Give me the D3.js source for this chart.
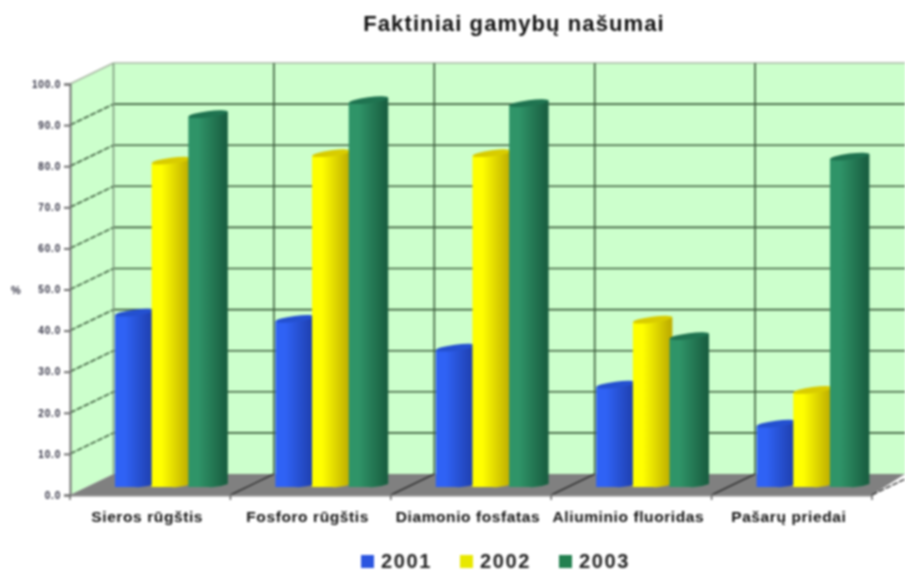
<!DOCTYPE html>
<html lang="en">
<head>
<meta charset="UTF-8">
<title>Faktiniai gamybų našumai</title>
<script src="https://d3js.org/d3.v7.min.js"></script>
<style>
  body { margin: 0; background: #fff; }
  svg { display: block; filter: blur(0.9px); font-family: "Liberation Sans", Arial, sans-serif; font-weight: bold; }
</style>
</head>
<body>
<script>
const categories = ["Sieros rūgštis", "Fosforo rūgštis", "Diamonio fosfatas", "Aliuminio fluoridas", "Pašarų priedai"];
const years = ["2001", "2002", "2003"];
const values2001 = [43.5, 42, 35, 26, 16.5];
const values2002 = [80.5, 82.3, 82.3, 41.8, 24.7];
const values2003 = [91.8, 95.2, 94.5, 37.8, 81.5];
const yTicks = [0, 10, 20, 30, 40, 50, 60, 70, 80, 90, 100];

const seriesValues = [values2001, values2002, values2003];
const light = ["#2f62f5", "#ffff00", "#2f9468"];
const dark = ["#1f40b0", "#c0b000", "#1a6042"];
const topCol = ["#2450d0", "#d8cc00", "#1f7350"];
const legendCol = ["#2b55e0", "#e8e800", "#22804f"];

const width = 905, height = 572;
const depthX = 43.5, depthY = 21;   // 3d shift from front to back wall

const svg = d3.select("body").append("svg").attr("width", width).attr("height", height);

const x = d3.scaleBand().domain(categories).range([70, 872]);
const y = d3.scaleLinear().domain([0, 100]).range([495, 84]);

const defs = svg.append("defs");
years.forEach((yr, i) => {
  const g = defs.append("linearGradient").attr("id", "cyl" + i);
  g.append("stop").attr("offset", "0%").attr("stop-color", light[i]);
  g.append("stop").attr("offset", "25%").attr("stop-color", light[i]);
  g.append("stop").attr("offset", "92%").attr("stop-color", dark[i]);
});

// walls and floor
const y0 = y(0), y100 = y(100);
const backX = x.range()[0] + depthX;
svg.append("rect").attr("x", backX).attr("y", y100 - depthY)
  .attr("width", width - backX).attr("height", y0 - y100).attr("fill", "#ccffcc");
svg.append("polygon").attr("fill", "#ccffcc")
  .attr("points", [[70, y100], [backX, y100 - depthY], [backX, y0 - depthY], [70, y0]].join(" "));
svg.append("polygon").attr("fill", "#808080")
  .attr("points", [[70, y0], [backX, y0 - depthY], [width, y0 - depthY], [872, y0]].join(" "));

// grid
yTicks.forEach(t => {
  const col = t === 100 ? "#a9b8a4" : "#3f5f3f";
  if (t > 0) {
    svg.append("line").attr("x1", 70).attr("y1", y(t)).attr("x2", backX).attr("y2", y(t) - depthY)
      .attr("stroke", col).attr("stroke-width", 1.6).attr("stroke-dasharray", t === 100 ? null : "6 1.5");
    svg.append("line").attr("x1", backX).attr("y1", y(t) - depthY).attr("x2", width).attr("y2", y(t) - depthY)
      .attr("stroke", col).attr("stroke-width", 1.6);
  }
});
categories.forEach(c => {
  svg.append("line").attr("x1", x(c) + depthX).attr("y1", y100 - depthY).attr("x2", x(c) + depthX).attr("y2", y0 - depthY)
    .attr("stroke", c === categories[0] ? "#7f9a7f" : "#3f5f3f").attr("stroke-width", 1.6);
  if (c !== categories[0]) svg.append("line").attr("x1", x(c)).attr("y1", y0).attr("x2", x(c) + depthX).attr("y2", y0 - depthY)
    .attr("stroke", "#333").attr("stroke-width", 1.4);
});
svg.append("line").attr("x1", 872).attr("y1", y0).attr("x2", 872 + depthX).attr("y2", y0 - depthY)
  .attr("stroke", "#333").attr("stroke-width", 1.4).attr("stroke-dasharray", "6 1.5");

// axes
const yAxis = svg.append("g").attr("transform", "translate(70,0)")
  .call(d3.axisLeft(y).tickValues(yTicks).tickFormat(d => d.toFixed(1)).tickSize(6).tickPadding(3));
yAxis.selectAll("path, line").attr("stroke", "#707070").attr("stroke-width", 2);
yAxis.selectAll("text").attr("font-size", 10).attr("fill", "#334").attr("font-family", "inherit")
  .attr("font-weight", "bold").attr("letter-spacing", 0.8);

const xAxis = svg.append("g").attr("transform", `translate(0,${y0})`)
  .call(d3.axisBottom(x).tickSize(0).tickPadding(16));
xAxis.select("path").attr("stroke", "#8a8a8a").attr("stroke-width", 2);
xAxis.selectAll("text").attr("font-size", 15.5).attr("fill", "#111").attr("font-family", "inherit")
  .attr("font-weight", "bold").attr("letter-spacing", 0.6).attr("dx", -3);
[...categories, null].forEach(c => {
  const px = c === null ? x.range()[1] : x(c);
  svg.append("line").attr("x1", px).attr("y1", y0).attr("x2", px).attr("y2", y0 + 5)
    .attr("stroke", "#666").attr("stroke-width", 1.5);
});

// cylinders
const barOffset = d3.scaleBand().domain(years).range([45, 155]);
const barW = 39.5, barDrop = y(0) - 487;
const ry = 3;
categories.forEach((c, ci) => {
  years.forEach((yr, si) => {
    const v = seriesValues[si][ci];
    const bx = x(c) + barOffset(yr);
    const top = y(v) - barDrop;
    const tl = top + 7, tr = top + 2, base = y(0) - barDrop;
    svg.append("path").attr("fill", `url(#cyl${si})`)
      .attr("d", `M${bx},${tl} L${bx + barW},${tr} L${bx + barW},${base - 3}
                  Q${bx + barW * 0.75},${base + 1} ${bx + barW / 2},${base} L${bx},${base} Z`);
    svg.append("ellipse").attr("fill", topCol[si])
      .attr("cx", bx + barW / 2).attr("cy", (tl + tr) / 2).attr("rx", barW / 2).attr("ry", ry)
      .attr("transform", `rotate(${Math.atan2(tr - tl, barW) * 180 / Math.PI} ${bx + barW / 2} ${(tl + tr) / 2})`);
  });
});

// title, unit, legend
svg.append("text").attr("x", 514).attr("y", 31).attr("text-anchor", "middle").attr("font-size", 22)
  .attr("letter-spacing", 1.1).attr("fill", "#111").text("Faktiniai gamybų našumai");
svg.append("text").attr("x", 16).attr("y", 294).attr("text-anchor", "middle").attr("font-size", 11).attr("fill", "#334").text("%");

const legendX = d3.scaleBand().domain(years).range([361, 658]);
years.forEach((yr, i) => {
  svg.append("rect").attr("x", legendX(yr)).attr("y", 555).attr("width", 13).attr("height", 13).attr("fill", legendCol[i]);
  svg.append("text").attr("x", legendX(yr) + 20).attr("y", 567.5).attr("font-size", 20)
    .attr("letter-spacing", 1.6).attr("fill", "#222").text(yr);
});
</script>
</body>
</html>
